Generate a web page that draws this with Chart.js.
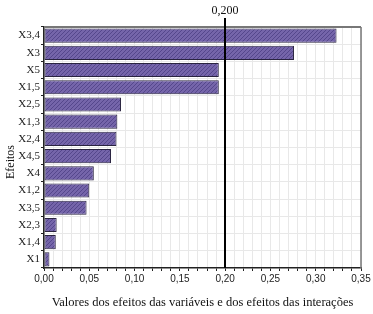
<!DOCTYPE html>
<html>
<head>
<meta charset="utf-8">
<script src="https://cdn.jsdelivr.net/npm/chart.js@4"></script>
<style>
  html, body { margin: 0; padding: 0; background: #fff; }
  #wrap { width: 373px; height: 314px; }
</style>
</head>
<body>
<div id="wrap"><canvas id="efeitosChart" width="373" height="314"></canvas></div>
<script>
// effects, top to bottom
const efeitos = ['X3,4', 'X3', 'X5', 'X1,5', 'X2,5', 'X1,3', 'X2,4', 'X4,5', 'X4', 'X1,2', 'X3,5', 'X2,3', 'X1,4', 'X1'];
const valores = [0.323, 0.276, 0.193, 0.193, 0.085, 0.081, 0.080, 0.074, 0.055, 0.050, 0.047, 0.014, 0.013, 0.006];
const limite = 0.2;
const limiteLabel = '0,200';

// diagonal hatch fill for the bars
const makeHatch = () => {
    const c = document.createElement('canvas');
    c.width = 4; c.height = 4;
    const g = c.getContext('2d');
    g.fillStyle = '#7565aa';
    g.fillRect(0, 0, 4, 4);
    g.strokeStyle = '#55478c';
    g.lineWidth = 1;
    g.beginPath();
    g.moveTo(0, 4); g.lineTo(4, 0);
    g.moveTo(-1, 1); g.lineTo(1, -1);
    g.moveTo(3, 5); g.lineTo(5, 3);
    g.stroke();
    return g.createPattern(c, 'repeat');
};

// reference line at 0,200 + frame + y title
const extras = {
    id: 'extras',
    afterDatasetsDraw(chart) {
        const { ctx, chartArea: a, scales: { x } } = chart;
        ctx.save();
        // top / right frame
        ctx.strokeStyle = '#777';
        ctx.lineWidth = 2;
        ctx.beginPath();
        ctx.moveTo(a.left, a.top);
        ctx.lineTo(a.right, a.top);
        ctx.stroke();
        ctx.lineWidth = 1.5;
        ctx.beginPath();
        ctx.moveTo(a.right, a.top);
        ctx.lineTo(a.right, a.bottom);
        ctx.stroke();
        // limit line
        const px = Math.round(x.getPixelForValue(limite));
        ctx.strokeStyle = '#000';
        ctx.lineWidth = 2;
        ctx.beginPath();
        ctx.moveTo(px, 18);
        ctx.lineTo(px, a.bottom);
        ctx.stroke();
        ctx.fillStyle = '#111';
        ctx.font = '12px "Liberation Serif"';
        ctx.textAlign = 'center';
        ctx.textBaseline = 'middle';
        ctx.fillText(limiteLabel, px, 11);
        // y title
        ctx.translate(11, 162);
        ctx.rotate(-Math.PI / 2);
        ctx.font = '12px "Liberation Serif"';
        ctx.fillText('Efeitos', 0, 0);
        ctx.restore();
    }
};

const initChart = () => {
    const ctx = document.getElementById('efeitosChart').getContext('2d');
    new Chart(ctx, {
        type: 'bar',
        data: {
            labels: efeitos,
            datasets: [{
                data: valores,
                backgroundColor: makeHatch(),
                borderColor: '#2a2440',
                borderWidth: 1,
                borderSkipped: false,
                barPercentage: 0.82,
                categoryPercentage: 1
            }]
        },
        options: {
            indexAxis: 'y',
            responsive: false,
            animation: false,
            layout: { padding: { left: 0, top: 27, right: 12, bottom: 0 } },
            plugins: { legend: { display: false }, tooltip: { enabled: false } },
            scales: {
                x: {
                    min: 0,
                    max: 0.35,
                    ticks: {
                        stepSize: 0.01,
                        autoSkip: false,
                        maxRotation: 0,
                        color: '#222',
                        font: { family: '"Liberation Sans"', size: 10 },
                        padding: 2,
                        callback: (v) => {
                            const n = Math.round(v * 100);
                            return n % 5 === 0 ? (n / 100).toFixed(2).replace('.', ',') : '';
                        }
                    },
                    grid: { color: '#e8e8e8', tickLength: 3, tickColor: '#222' },
                    border: { color: '#222', width: 1.5 },
                    title: {
                        display: true,
                        text: 'Valores dos efeitos das variáveis e dos efeitos das interações',
                        color: '#111',
                        font: { family: '"Liberation Serif"', size: 12.5 },
                        padding: { top: 4 }
                    },
                    afterFit: (s) => { s.height = 46; }
                },
                y: {
                    ticks: {
                        color: '#222',
                        font: { family: '"Liberation Serif"', size: 11 },
                        padding: 1
                    },
                    grid: { color: '#e8e8e8', tickLength: 3, tickColor: '#222' },
                    border: { color: '#222', width: 1.5 },
                    afterFit: (s) => { s.width = 44; }
                }
            }
        },
        plugins: [extras]
    });
};

document.addEventListener('DOMContentLoaded', initChart);
</script>
</body>
</html>
